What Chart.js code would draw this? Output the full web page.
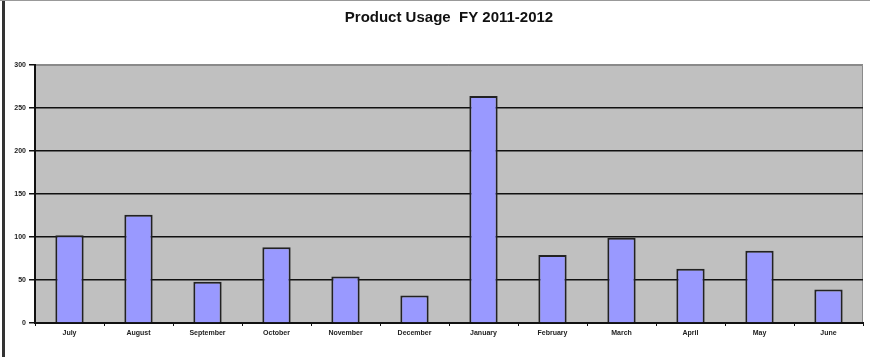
<!DOCTYPE html>
<html>
<head>
<meta charset="utf-8">
<script src="https://cdn.jsdelivr.net/npm/chart.js@4/dist/chart.umd.min.js"></script>
<style>
    body { margin: 0; background: #fff; }
    #wrap { position: relative; width: 870px; height: 357px; }
    #edge { position: absolute; left: 2px; top: 0; width: 3px; height: 357px; background: #333; }
    #topline { position: absolute; left: 0; top: 0; width: 870px; height: 1px; background: #999; }
</style>
</head>
<body>
<div id="wrap">
    <canvas id="usage-chart" width="870" height="357"></canvas>
    <div id="edge"></div>
    <div id="topline"></div>
</div>
<script>
var months = ['July', 'August', 'September', 'October', 'November', 'December',
    'January', 'February', 'March', 'April', 'May', 'June'];
var usage = [102, 126, 48, 88, 54, 32, 264, 79, 99, 63, 84, 39];
var yTicks = [0, 50, 100, 150, 200, 250, 300];

// grey plot background with a thin grey frame on top and right
var plotBackground = {
    id: 'plotBackground',
    beforeDraw: function (chart) {
        var ctx = chart.ctx, a = chart.chartArea;
        ctx.save();
        ctx.fillStyle = '#c0c0c0';
        ctx.fillRect(a.left, a.top, a.right - a.left, a.bottom - a.top);
        ctx.strokeStyle = '#8a8a8a';
        ctx.lineWidth = 1;
        ctx.beginPath();
        ctx.moveTo(a.left, a.top + 0.5);
        ctx.lineTo(a.right - 0.5, a.top + 0.5);
        ctx.lineTo(a.right - 0.5, a.bottom);
        ctx.stroke();
        ctx.restore();
    }
};

var tickFont = { family: 'Liberation Sans, Arial, sans-serif', size: 7, weight: 'bold' };

new Chart(document.getElementById('usage-chart'), {
    type: 'bar',
    data: {
        labels: months,
        datasets: [
            {
                label: 'Usage',
                data: usage,
                backgroundColor: '#9999ff',
                borderColor: '#222',
                borderWidth: 2,
                barPercentage: 0.41,
                categoryPercentage: 1
            }
        ]
    },
    options: {
        responsive: false,
        animation: false,
        layout: { padding: { left: 0, right: 7, top: 0, bottom: 0 } },
        plugins: {
            legend: { display: false },
            tooltip: { enabled: false },
            title: {
                display: true,
                text: 'Product Usage  FY 2011-2012',
                fullSize: false,
                color: '#111',
                font: { family: 'Liberation Sans, Arial, sans-serif', size: 15, weight: 'bold' },
                padding: { top: 9, bottom: 38 }
            }
        },
        scales: {
            x: {
                border: { color: '#111', width: 2 },
                grid: {
                    offset: true,
                    drawOnChartArea: false,
                    color: '#111',
                    tickLength: 3
                },
                ticks: { color: '#222', font: tickFont, maxRotation: 0, autoSkip: false, padding: 3 },
                afterFit: function (scale) { scale.height = 34; }
            },
            y: {
                min: 0,
                max: 300,
                afterBuildTicks: function (scale) {
                    scale.ticks = yTicks.map(function (v) { return { value: v }; });
                },
                border: { color: '#111', width: 2 },
                grid: {
                    color: function (c) { return c.tick && c.tick.value === 300 ? '#8a8a8a' : '#111'; },
                    lineWidth: 1.5,
                    tickColor: '#111',
                    tickLength: 6
                },
                ticks: { color: '#222', font: tickFont, padding: 3 },
                afterFit: function (scale) { scale.width = 35; }
            }
        }
    },
    plugins: [plotBackground]
});
</script>
</body>
</html>
